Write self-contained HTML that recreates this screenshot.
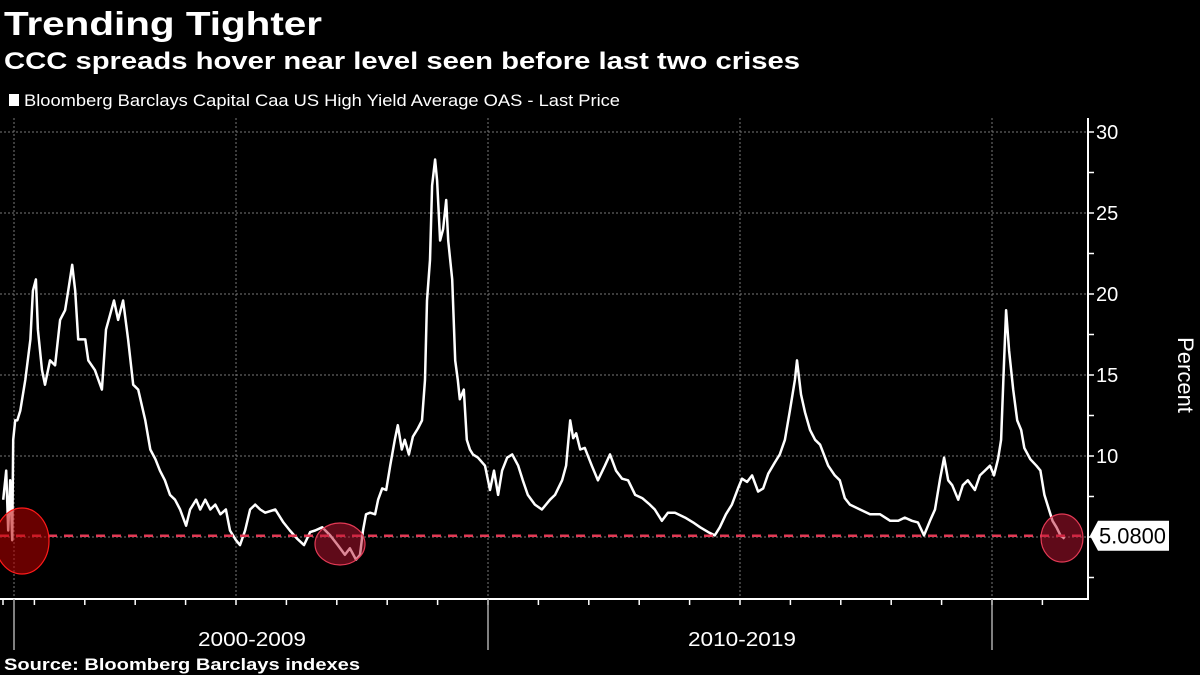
<!DOCTYPE html>
<html><head><meta charset="utf-8"><style>
html,body{margin:0;padding:0;background:#000;width:1200px;height:675px;overflow:hidden}
svg{display:block}
text{font-family:"Liberation Sans",sans-serif}
</style></head><body>
<svg id="chart" width="1200" height="675" viewBox="0 0 1200 675">
<text x="4" y="35" font-size="33" font-weight="bold" fill="#fff" textLength="318" lengthAdjust="spacingAndGlyphs">Trending Tighter</text>
<text x="4" y="69" font-size="24" font-weight="bold" fill="#fff" textLength="796" lengthAdjust="spacingAndGlyphs">CCC spreads hover near level seen before last two crises</text>
<rect x="9" y="94" width="10" height="12" fill="#fff"/>
<text x="24" y="106" font-size="17" fill="#fff" textLength="596" lengthAdjust="spacingAndGlyphs">Bloomberg Barclays Capital Caa US High Yield Average OAS - Last Price</text>
<g id="grid"></g>
<g id="axes"></g>
<g id="series"></g>
<g id="marks"></g>
<text transform="translate(1178,375) rotate(90)" font-size="22" fill="#fff" text-anchor="middle">Percent</text>
<text x="198" y="646" font-size="20" fill="#fff" textLength="108" lengthAdjust="spacingAndGlyphs">2000-2009</text>
<text x="688" y="646" font-size="20" fill="#fff" textLength="108" lengthAdjust="spacingAndGlyphs">2010-2019</text>
<text x="4" y="670" font-size="17" font-weight="bold" fill="#fff" textLength="356" lengthAdjust="spacingAndGlyphs">Source: Bloomberg Barclays indexes</text>
</svg>
<script>
const yTicks=[10,15,20,25,30];
const lastPrice=5.08;
const dates=[2000.38,2000.44,2000.48,2000.52,2000.56,2000.58,2000.62,2000.66,2000.72,2000.82,2000.92,2000.97,2001.03,2001.07,2001.15,2001.21,2001.31,2001.41,2001.51,2001.61,2001.67,2001.75,2001.81,2001.87,2001.95,2002.01,2002.07,2002.20,2002.34,2002.42,2002.50,2002.58,2002.66,2002.76,2002.86,2002.96,2003.06,2003.20,2003.30,2003.40,2003.49,2003.59,2003.69,2003.79,2003.89,2004.01,2004.09,2004.21,2004.29,2004.39,2004.49,2004.59,2004.69,2004.80,2004.88,2005.00,2005.08,2005.18,2005.28,2005.38,2005.48,2005.58,2005.78,2005.94,2006.07,2006.21,2006.35,2006.47,2006.57,2006.71,2006.87,2007.02,2007.16,2007.26,2007.38,2007.46,2007.52,2007.58,2007.66,2007.76,2007.82,2007.90,2007.98,2008.06,2008.15,2008.21,2008.29,2008.35,2008.43,2008.51,2008.61,2008.69,2008.75,2008.79,2008.85,2008.89,2008.95,2008.99,2009.05,2009.11,2009.17,2009.21,2009.29,2009.35,2009.40,2009.44,2009.52,2009.58,2009.64,2009.70,2009.80,2009.94,2010.04,2010.12,2010.20,2010.28,2010.38,2010.48,2010.60,2010.69,2010.79,2010.93,2011.07,2011.23,2011.33,2011.47,2011.55,2011.63,2011.69,2011.75,2011.83,2011.92,2012.06,2012.18,2012.32,2012.42,2012.54,2012.66,2012.78,2012.92,2013.06,2013.21,2013.31,2013.45,2013.57,2013.71,2013.91,2014.07,2014.21,2014.37,2014.50,2014.60,2014.72,2014.84,2014.96,2015.04,2015.14,2015.24,2015.36,2015.46,2015.56,2015.69,2015.79,2015.89,2015.99,2016.09,2016.13,2016.21,2016.29,2016.39,2016.49,2016.59,2016.75,2016.88,2016.98,2017.08,2017.18,2017.38,2017.58,2017.78,2017.98,2018.14,2018.27,2018.41,2018.53,2018.65,2018.77,2018.87,2018.97,2019.05,2019.13,2019.21,2019.33,2019.42,2019.52,2019.66,2019.76,2019.86,2019.96,2020.04,2020.12,2020.18,2020.24,2020.28,2020.34,2020.42,2020.50,2020.58,2020.64,2020.76,2020.88,2020.96,2021.04,2021.12,2021.20,2021.28,2021.36,2021.44];
const values=[7.3,9.1,5.4,8.5,4.8,11.0,12.2,12.2,12.8,14.7,17.2,20.2,20.9,17.8,15.3,14.4,15.9,15.6,18.4,19.0,20.2,21.8,20.2,17.2,17.2,17.2,15.9,15.3,14.1,17.8,18.7,19.6,18.4,19.6,17.2,14.4,14.1,12.2,10.4,9.8,9.1,8.5,7.6,7.3,6.7,5.7,6.7,7.3,6.7,7.3,6.7,7.0,6.4,6.7,5.4,4.8,4.5,5.4,6.7,7.0,6.7,6.5,6.7,5.9,5.4,4.9,4.5,5.3,5.4,5.6,5.1,4.5,3.9,4.3,3.6,3.9,5.4,6.4,6.5,6.4,7.3,8.0,7.9,9.4,11.0,11.9,10.4,11.0,10.1,11.2,11.7,12.2,14.7,19.6,22.1,26.7,28.3,27.0,23.3,24.0,25.8,23.3,20.9,15.9,14.7,13.5,14.1,11.0,10.4,10.1,9.9,9.4,7.9,9.1,7.6,9.1,9.9,10.1,9.4,8.5,7.6,7.0,6.7,7.3,7.6,8.5,9.4,12.2,11.1,11.4,10.4,10.5,9.4,8.5,9.4,10.1,9.1,8.6,8.5,7.6,7.4,7.0,6.7,6.0,6.5,6.5,6.2,5.9,5.6,5.3,5.1,5.6,6.4,7.0,8.0,8.6,8.4,8.8,7.8,8.0,8.9,9.6,10.1,11.0,12.8,14.7,15.9,13.8,12.7,11.6,11.0,10.7,9.4,8.8,8.5,7.4,7.0,6.7,6.4,6.4,6.0,6.0,6.2,6.0,5.9,5.1,6.0,6.7,8.6,9.9,8.5,8.2,7.3,8.2,8.5,7.9,8.8,9.1,9.4,8.8,9.8,11.0,15.9,19.0,16.5,14.1,12.2,11.6,10.5,9.8,9.4,9.1,7.6,6.8,6.0,5.6,5.1,4.9];

const NS='http://www.w3.org/2000/svg';
const L=0,R=1088,T=118,B=599;
function xs(yr){return 488+(yr-2010)*50.4;}
function ys(v){return 132+(30-v)*16.2;}
function mk(tag,attrs,parent){const e=document.createElementNS(NS,tag);for(const k in attrs)e.setAttribute(k,attrs[k]);parent.appendChild(e);return e;}
const grid=document.getElementById('grid'),axes=document.getElementById('axes'),series=document.getElementById('series'),marks=document.getElementById('marks');

yTicks.forEach(t=>{
  const g=mk('line',{x1:L,x2:R,y1:ys(t),y2:ys(t),stroke:'#777','stroke-width':1,'stroke-dasharray':'2,2'},grid);
  
  
  const lb=mk('text',{x:R+8,y:ys(t)+7,'font-size':20,fill:'#fff'},axes);
  lb.textContent=t;
  
  
});
for(let v=2.5;v<=30;v+=2.5){
  const tk=mk('line',{x1:R,x2:R+6,y1:ys(v),y2:ys(v),stroke:'#fff','stroke-width':1.5},axes);
  
  
}
const g5=mk('line',{x1:L,x2:R,y1:ys(5),y2:ys(5),stroke:'#777','stroke-width':1,'stroke-dasharray':'2,2'},grid);


[2005,2010,2015,2020].forEach(y=>{
  const v=mk('line',{x1:xs(y),x2:xs(y),y1:T,y2:B,stroke:'#777','stroke-width':1,'stroke-dasharray':'2,2'},grid);
  
  
});
const v0=mk('line',{x1:14,x2:14,y1:T,y2:B,stroke:'#777','stroke-width':1,'stroke-dasharray':'2,2'},grid);



const ax1=mk('line',{x1:R,x2:R,y1:T,y2:B+1,stroke:'#fff','stroke-width':2},axes);


const ax2=mk('line',{x1:L,x2:R+1,y1:B,y2:B,stroke:'#fff','stroke-width':2},axes);


for(let y=2001;y<=2021;y++){
  const tk=mk('line',{x1:xs(y),x2:xs(y),y1:B,y2:B+6,stroke:'#fff','stroke-width':1.5},axes);
  
  
}
const tkA=mk('line',{x1:3,x2:3,y1:B,y2:B+6,stroke:'#fff','stroke-width':1.5},axes);


[14,xs(2010),xs(2020)].forEach((x,i)=>{
  const s=mk('line',{x1:x,x2:x,y1:B,y2:650,stroke:'#aaa','stroke-width':1.5},axes);
  
  
});

let d='';
dates.forEach((yr,i)=>{d+=(i?'L':'M')+xs(yr).toFixed(1)+','+ys(values[i]).toFixed(1);});
const line=mk('path',{d:d,fill:'none',stroke:'#fff','stroke-width':2.5,'stroke-linejoin':'round'},series);



const ref=mk('line',{x1:L,x2:R,y1:ys(lastPrice),y2:ys(lastPrice),stroke:'#e23a55','stroke-width':2.5,'stroke-dasharray':'9,7'},marks);



const c1=mk('ellipse',{cx:22,cy:541,rx:27,ry:33,fill:'rgba(190,0,0,0.55)',stroke:'#ff1a1a','stroke-width':1.2},marks);


const c2=mk('ellipse',{cx:340,cy:544,rx:25,ry:21,fill:'rgba(190,20,50,0.5)',stroke:'#e23a55','stroke-width':1.2},marks);


const c3=mk('ellipse',{cx:1062,cy:538,rx:21,ry:24,fill:'rgba(190,20,50,0.5)',stroke:'#e23a55','stroke-width':1.2},marks);



const yl=ys(lastPrice);
const tag=mk('path',{d:`M${R+2},${yl}L${R+10},${yl-15}H${R+81}V${yl+15}H${R+10}Z`,fill:'#fff'},marks);


const tt=mk('text',{x:R+11,y:yl+8,'font-size':22,fill:'#000',textLength:67,lengthAdjust:'spacingAndGlyphs'},marks);
tt.textContent=lastPrice.toFixed(4);


</script>
</body></html>
